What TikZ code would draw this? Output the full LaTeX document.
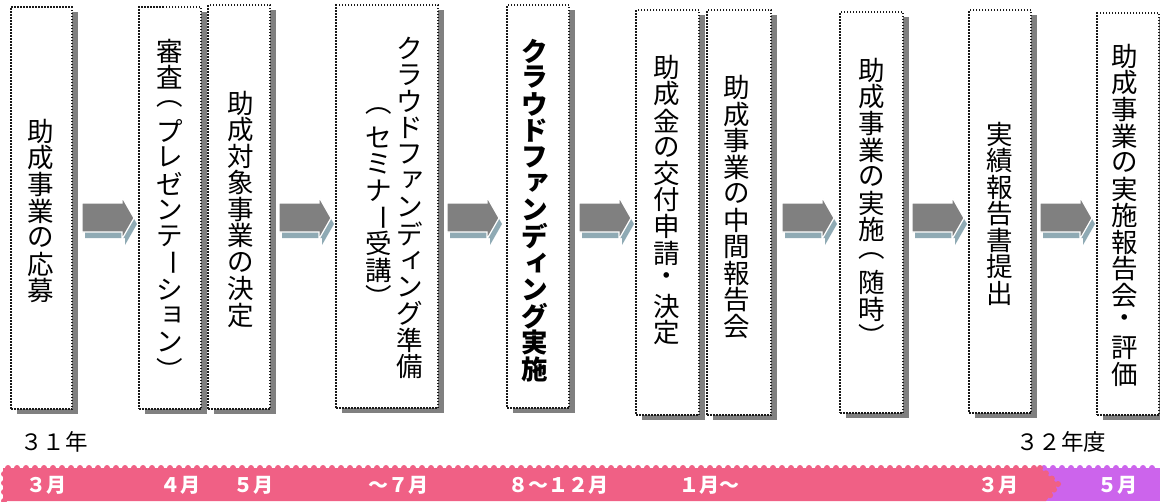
\documentclass[tikz,border=0pt]{standalone}
\usepackage{fontspec}
\usepackage{graphicx}
\usetikzlibrary{shadows,calc}
\newfontfamily\jp{Noto Sans CJK JP}
\definecolor{barpink}{RGB}{240,96,133}
\definecolor{barpurple}{RGB}{204,100,236}
\definecolor{arrowgray}{RGB}{128,128,128}
\definecolor{arrowblue}{RGB}{143,170,180}
\newlength\vp
\setlength\vp{26.5pt}
\makeatletter
\def\vt@loop#1{\ifx#1\relax\else\vt@cell{#1}\expandafter\vt@loop\fi}
\def\vt@cell#1{\vbox to\vp{\vss\hbox to 1.2em{\hss#1\hss}\vss}}
\newcommand\vtext[1]{\vbox{\offinterlineskip\vt@loop#1\relax}}
\makeatother
\newcommand\vlp{\char"FE35}
\newcommand\vrp{\char"FE36}
\newcommand\vbar{\rotatebox[origin=c]{-90}{\char"30FC}}
\newcommand\vsmall[1]{\raisebox{0.12em}{\kern0.24em\char#1}}
\newcommand\vsa{\vsmall{"30A1}}
\newcommand\vsi{\vsmall{"30A3}}
\newcommand\vso{\vsmall{"30E7}}
\newcommand\blockarrow[1]{%
  \fill[arrowblue, shift={(#1+3,6)}] (0,203) -- (40,203) -- (40,197) -- (52,218) -- (40,239) -- (40,232) -- (0,232) -- cycle;
  \filldraw[fill=arrowgray, draw=white, line width=1.2pt, shift={(#1,0)}] (0,203) -- (40,203) -- (40,197) -- (52,218) -- (40,239) -- (40,232) -- (0,232) -- cycle;
}
\tikzset{
  box/.style={rectangle, inner sep=0pt, fill=white, draw=black!90, line width=1.6pt,
    dash pattern=on 1.5pt off 1.5pt,
    drop shadow={shadow xshift=6pt, shadow yshift=-5pt, fill=black!50, opacity=1}},
  vlabel/.style={inner sep=0pt, font=\jp\fontsize{26.5}{26.5}\selectfont},
  barlabel/.style={inner sep=0pt, text=white, font=\jp\bfseries\fontsize{20}{20}\selectfont},
  yearlabel/.style={inner sep=0pt, text=black, font=\jp\fontsize{22.5}{22.5}\selectfont},
}
\begin{document}
\begin{tikzpicture}[x=1pt,y=-1pt]
\useasboundingbox (0,0) rectangle (1160,501);
% boxes
\node[box, minimum width=61, minimum height=402] (b1) at (41.5,208) {};
\node[box, minimum width=62, minimum height=402] (b2) at (170,208) {};
\node[box, minimum width=62, minimum height=404] (b3) at (239,207) {};
\node[box, minimum width=102, minimum height=403] (b4) at (387,206.5) {};
\node[box, minimum width=62, minimum height=403] (b5) at (538,206.5) {};
\node[box, minimum width=63, minimum height=405] (b6) at (667.5,212.5) {};
\node[box, minimum width=64, minimum height=405] (b7) at (739,212.5) {};
\node[box, minimum width=63, minimum height=401] (b8) at (871.5,212.5) {};
\node[box, minimum width=62, minimum height=403] (b9) at (1000,211.5) {};
\node[box, minimum width=62, minimum height=402] (b10) at (1128,214) {};
% texts
\node[vlabel] (t1) at (41,211) {\vtext{助成事業の応募}};
\node[vlabel] (t2) at (169.5,210) {\vtext{審査\vlp プレゼンテ\vbar シ\vso ン\vrp}};
\node[vlabel] (t3) at (240.5,209) {\vtext{助成対象事業の決定}};
\node[vlabel] (t4a) at (410,207.5) {\vtext{クラウドフ\vsa ンデ\vsi ング準備}};
\node[vlabel] (t4b) at (379,204) {\vtext{\vlp セミナ\vbar 受講\vrp}};
\node[vlabel, font=\jp\bfseries\fontsize{26.5}{26.5}\selectfont] (t5) at (535,210) {\vtext{クラウドフ\vsa ンデ\vsi ング実施}};
\node[vlabel] (t6) at (667,200) {\vtext{助成金の交付申請・決定}};
\node[vlabel] (t7) at (737,207) {\vtext{助成事業の中間報告会}};
\node[vlabel] (t8) at (871.5,203) {\vtext{助成事業の実施\vlp 随時\vrp}};
\node[vlabel] (t9) at (1000,213.5) {\vtext{実績報告書提出}};
\node[vlabel] (t10) at (1125,215.5) {\vtext{助成事業の実施報告会・評価}};
% arrows
\blockarrow{82}
\blockarrow{279}
\blockarrow{447}
\blockarrow{579}
\blockarrow{782}
\blockarrow{912}
\blockarrow{1040}
% years
\node[yearlabel] (y1) at (54,442) {３１年};
\node[yearlabel] (y2) at (1061,442) {３２年度};
% bar
\fill[barpurple] (1030,468) rectangle (1160,501);
\foreach \i in {1044,1053,...,1160} \fill[barpurple] (\i,468) circle (3);
\fill[barpink] (3,468) -- (1040,468) -- (1058,484) -- (1046,501) -- (3,501) -- cycle;
\foreach \i in {8,17,...,1040} \fill[barpink] (\i,468) circle (3);
\foreach \j in {474,483,...,501} \fill[barpink] (4,\j) circle (3);
\foreach \t in {0,0.33,0.66,1} \fill[barpink] ($(1040,468)!\t!(1058,484)$) circle (3);
\foreach \t in {0.33,0.66} \fill[barpink] ($(1058,484)!\t!(1046,501)$) circle (3);
% bar labels
\node[barlabel] (m1) at (46,485) {３月};
\node[barlabel] (m2) at (180,485) {４月};
\node[barlabel] (m3) at (253,485) {５月};
\node[barlabel] (m4) at (398,485) {～７月};
\node[barlabel] (m5) at (558,485) {８～１２月};
\node[barlabel] (m6) at (709,485) {１月～};
\node[barlabel] (m7) at (998,485) {３月};
\node[barlabel] (m8) at (1117,485) {５月};
\end{tikzpicture}
\end{document}
